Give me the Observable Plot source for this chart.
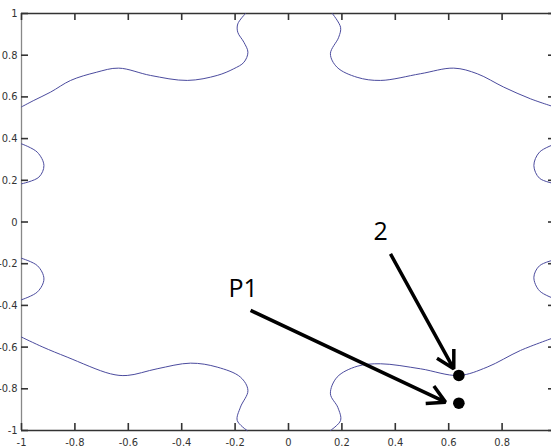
<!DOCTYPE html>
<html>
<head>
<meta charset="utf-8">
<script src="https://cdn.jsdelivr.net/npm/d3@7"></script>
<script src="https://cdn.jsdelivr.net/npm/@observablehq/plot@0.6"></script>
<style>
  html, body { margin: 0; padding: 0; background: #fff; }
  #chart svg { display: block; }
</style>
</head>
<body>
<div id="chart"></div>
<script>
// ---- data ----
const xTicks = [-1, -0.8, -0.6, -0.4, -0.2, 0, 0.2, 0.4, 0.6, 0.8, 1];
const yTicks = [-1, -0.8, -0.6, -0.4, -0.2, 0, 0.2, 0.4, 0.6, 0.8, 1];

const topLeftCurve = [[-1, 0.552], [-0.954, 0.583], [-0.891, 0.623], [-0.816, 0.679], [-0.72, 0.718], [-0.636, 0.738], [-0.517, 0.703], [-0.379, 0.679], [-0.267, 0.703], [-0.205, 0.735], [-0.167, 0.766], [-0.152, 0.814], [-0.167, 0.862], [-0.19, 0.91], [-0.19, 0.95], [-0.161, 1.0]];
const topRightCurve = [[0.164, 1.0], [0.195, 0.934], [0.188, 0.886], [0.157, 0.807], [0.182, 0.742], [0.257, 0.694], [0.345, 0.679], [0.494, 0.711], [0.619, 0.738], [0.707, 0.711], [0.806, 0.647], [0.906, 0.591], [1.0, 0.55]];
const bottomLeftCurve = [[-1, -0.552], [-0.92, -0.6], [-0.829, -0.648], [-0.667, -0.728], [-0.604, -0.736], [-0.492, -0.704], [-0.367, -0.677], [-0.267, -0.696], [-0.18, -0.744], [-0.152, -0.808], [-0.18, -0.888], [-0.192, -0.952], [-0.155, -1.0]];
const bottomRightCurve = [[0.157, -1.0], [0.195, -0.952], [0.185, -0.89], [0.157, -0.824], [0.182, -0.744], [0.257, -0.692], [0.345, -0.68], [0.494, -0.704], [0.638, -0.736], [0.744, -0.696], [0.869, -0.616], [1.0, -0.552]];
const leftUpperLobe = [[-1, 0.375], [-0.941, 0.335], [-0.916, 0.271], [-0.935, 0.215], [-1, 0.183]];
const leftLowerLobe = [[-1, -0.174], [-0.94, -0.21], [-0.916, -0.273], [-0.94, -0.335], [-1, -0.373]];
const rightUpperLobe = [[1, 0.375], [0.94, 0.335], [0.919, 0.271], [0.94, 0.21], [1, 0.183]];
const rightLowerLobe = [[1, -0.18], [0.94, -0.21], [0.919, -0.265], [0.94, -0.33], [1, -0.37]];

const pointLabels = ["2", "P1"];
const pointX = [0.638, 0.638];
const pointY = [-0.736, -0.869];
const labelX = [0.345, -0.170];
const labelY = [-0.046, -0.319];
const arrowStartX = [0.382, -0.142];
const arrowStartY = [-0.153, -0.424];
const arrowEndX = [0.619, 0.588];
const arrowEndY = [-0.704, -0.864];

// ---- build tables ----
const curves = {topLeftCurve, topRightCurve, bottomLeftCurve, bottomRightCurve, leftUpperLobe, leftLowerLobe, rightUpperLobe, rightLowerLobe};
const lineData = Object.entries(curves).flatMap(([name, pts]) => pts.map(([x, y]) => ({name, x, y})));
const annotations = pointLabels.map((label, i) => ({
  label, px: pointX[i], py: pointY[i], lx: labelX[i], ly: labelY[i],
  x1: arrowStartX[i], y1: arrowStartY[i], x2: arrowEndX[i], y2: arrowEndY[i]
}));

const fmt = d => String(d);
const axisFont = "'Liberation Sans Narrow', 'DejaVu Sans Condensed', sans-serif";

// layout (pixels)
const W = 551, H = 446;
const padL = 21, edgeR = 555, padT = 13, edgeB = 430;
const tickLen = 7;
const xMin = xTicks[0], xMax = xTicks[xTicks.length - 1];
const yMin = yTicks[0], yMax = yTicks[yTicks.length - 1];
// tick length converted from pixels to data units
const tx = tickLen * (xMax - xMin) / (edgeR - padL);
const ty = tickLen * (yMax - yMin) / (edgeB - padT);

const tickStyle = {stroke: "#333", strokeWidth: 1.6};

const chart = Plot.plot({
  width: W,
  height: H,
  marginLeft: padL,
  marginRight: W - edgeR,
  marginTop: padT,
  marginBottom: H - edgeB,
  style: {background: "#fff", fontFamily: axisFont, fontSize: "11px", color: "#333"},
  x: {domain: [xMin, xMax], range: [padL, edgeR]},
  y: {domain: [yMin, yMax], range: [edgeB, padT]},
  marks: [
    // frame
    Plot.ruleY([yMax], {stroke: "#333", strokeWidth: 1.3}),
    Plot.ruleY([yMin], {stroke: "#333", strokeWidth: 1.3}),
    Plot.ruleX([xMin], {stroke: "#888", strokeWidth: 1.3}),
    Plot.ruleX([xMax], {stroke: "#888", strokeWidth: 1.3}),
    // inward ticks (MATLAB style)
    Plot.ruleX(xTicks, {x: d => d, y1: yMin, y2: yMin + ty, ...tickStyle}),
    Plot.ruleX(xTicks, {x: d => d, y1: yMax - ty, y2: yMax, ...tickStyle}),
    Plot.ruleY(yTicks, {y: d => d, x1: xMin, x2: xMin + tx, ...tickStyle}),
    Plot.ruleY(yTicks, {y: d => d, x1: xMax - tx, x2: xMax, ...tickStyle}),
    // tick labels
    Plot.axisX({anchor: "bottom", ticks: xTicks, tickSize: 0, tickPadding: 8, tickFormat: fmt, label: null, fill: "#333"}),
    Plot.axisY({anchor: "left", ticks: yTicks, tickSize: 0, tickPadding: 4, tickFormat: fmt, label: null, fill: "#333"}),
    // contour curves
    Plot.line(lineData, {x: "x", y: "y", z: "name", stroke: "#4b4b9e", strokeWidth: 1, curve: "catmull-rom"}),
    // arrows, dots, labels
    Plot.arrow(annotations, {x1: "x1", y1: "y1", x2: "x2", y2: "y2", stroke: "#000", strokeWidth: 3.5, headLength: 8.5, headAngle: 58, strokeLinecap: "butt"}),
    Plot.dot(annotations, {x: "px", y: "py", r: 5.8, fill: "#000", stroke: "none"}),
    Plot.text(annotations, {x: "lx", y: "ly", text: "label", fontFamily: "'Open Sans', sans-serif", fontSize: 25, fill: "#000", textAnchor: "middle", lineAnchor: "middle"})
  ]
});
document.getElementById("chart").appendChild(chart);
</script>
</body>
</html>
